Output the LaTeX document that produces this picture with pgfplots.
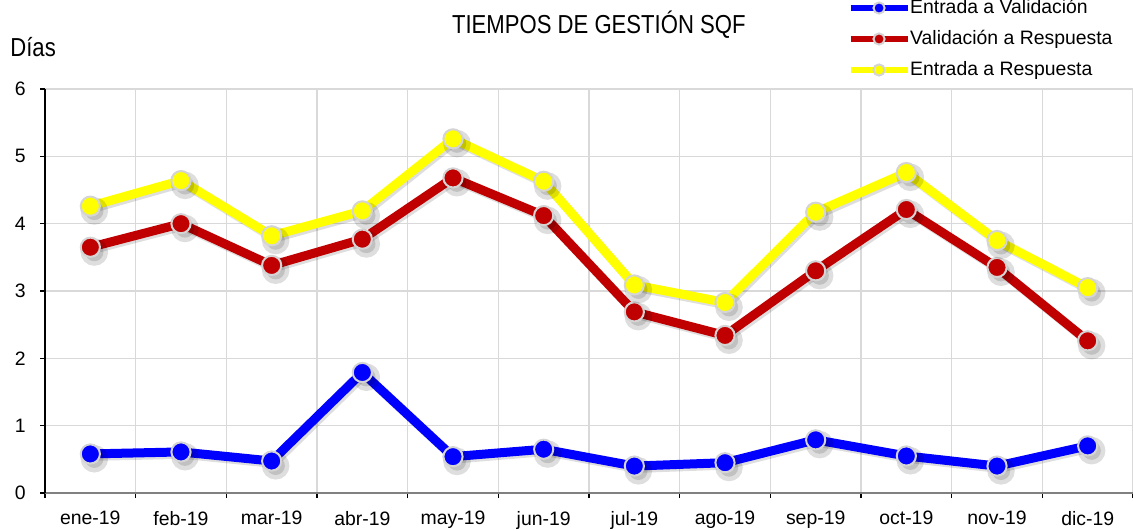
\documentclass[border=0pt]{standalone}
\usepackage{pgfplots}
\usepackage{pgfplotstable}
\pgfplotsset{compat=1.18}
\usepackage{fontspec}
\setmainfont{Liberation Sans}
\newfontfamily\narrowfont[FakeStretch=0.85]{Liberation Sans}
\definecolor{serblue}{HTML}{0000FF}
\definecolor{serred}{HTML}{C00000}
\definecolor{seryellow}{HTML}{FFFF00}
\definecolor{gridgray}{HTML}{D9D9D9}
\definecolor{markgray}{HTML}{D4D4D4}

\pgfplotstableread{
x  ev     vr    er
0  0.58   3.65  4.26
1  0.61   4.00  4.64
2  0.475  3.38  3.82
3  1.79   3.77  4.19
4  0.54   4.68  5.26
5  0.65   4.12  4.63
6  0.40   2.69  3.09
7  0.45   2.34  2.83
8  0.79   3.30  4.17
9  0.55   4.21  4.76
10 0.40   3.35  3.75
11 0.70   2.26  3.05
}\datatable

\pgfplotsset{
  shadowplot/.style={black, opacity=0.13, line width=4.5pt, mark=*, mark size=4.6pt,
     mark options={fill=black, draw=none},
     /tikz/transform canvas={shift={(1pt,-1.2pt)}}, forget plot},
  mainplot/.style={#1, line width=4.5pt, mark=*, mark size=4.8pt,
     mark options={fill=#1, draw=markgray, line width=1pt}},
}

\begin{document}
\begin{tikzpicture}
\useasboundingbox (-22.5pt,-18.5pt) rectangle (544pt,246.5pt);
\begin{axis}[
  at={(0pt,0pt)}, anchor=south west,
  width=544pt, height=202pt, scale only axis,
  xmin=-0.5, xmax=11.5, ymin=0, ymax=6,
  axis x line*=bottom, axis y line*=left,
  x axis line style={draw=gray, line width=1pt},
  y axis line style={draw=black, line width=0.8pt},
  xtick={0,...,11},
  xticklabels={ene-19,feb-19,mar-19,abr-19,may-19,jun-19,jul-19,ago-19,sep-19,oct-19,nov-19,dic-19},
  major x tick style={draw=none},
  minor xtick={-0.5,0.5,...,11.5},
  xminorgrids=true,
  minor x tick style={draw=black, line width=0.6pt},
  ytick={0,...,6},
  ymajorgrids=true,
  major y tick style={draw=black, line width=0.6pt},
  tick align=outside,
  major tick length=2.5pt, minor tick length=2.5pt,
  grid style={gridgray, line width=0.75pt},
  minor grid style={gridgray, line width=0.75pt},
  tick label style={font=\fontsize{9.7}{11}\selectfont},
  /pgf/number format/assume math mode=true,
  xticklabel style={anchor=north, inner sep=0pt, yshift=-6.5pt},
  yticklabel style={anchor=east, inner sep=0pt, xshift=-7pt},
  clip=false,
  legend style={draw=none, fill=none, inner sep=0pt, outer sep=0pt,
     at={(axis description cs:0.738,1.2228)}, anchor=north west,
     row sep=6.5pt,
     font=\fontsize{9.7}{11}\selectfont,
     nodes={inner sep=0pt, text height=7pt, text depth=2pt},
     /tikz/every odd column/.append style={column sep=0pt}},
  legend cell align=left,
  legend image code/.code={
    \draw[#1, line width=2.6pt, mark size=2.8pt, mark repeat=2, mark phase=2]
      plot coordinates {(0pt,0pt) (14.25pt,0pt) (28.5pt,0pt)};
  },
]
\addplot[shadowplot] table[x=x, y=ev] {\datatable};
\addplot[mainplot=serblue] table[x=x, y=ev] {\datatable};
\addlegendentry{Entrada a Validación}
\addplot[shadowplot] table[x=x, y=vr] {\datatable};
\addplot[mainplot=serred] table[x=x, y=vr] {\datatable};
\addlegendentry{Validación a Respuesta}
\addplot[shadowplot] table[x=x, y=er] {\datatable};
\addplot[mainplot=seryellow] table[x=x, y=er] {\datatable};
\addlegendentry{Entrada a Respuesta}
\end{axis}
\node[anchor=base, inner sep=0pt, font=\narrowfont\fontsize{13}{15}\selectfont] at (276.9pt,229.5pt) {TIEMPOS DE GESTIÓN SQF};
\node[anchor=base west, inner sep=0pt, font=\narrowfont\fontsize{13}{15}\selectfont] at (-17.5pt,218pt) {Días};
\end{tikzpicture}
\end{document}
